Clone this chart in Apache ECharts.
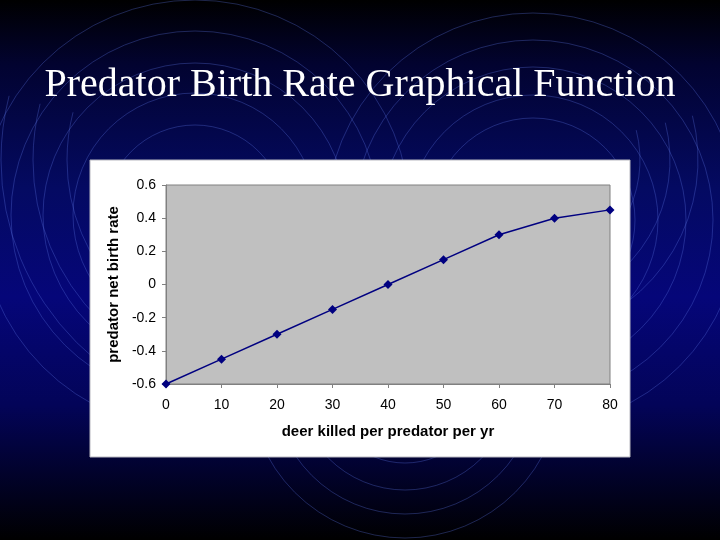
<!DOCTYPE html>
<html><head><meta charset="utf-8">
<script src="https://cdn.jsdelivr.net/npm/echarts@6/dist/echarts.min.js"></script>
<style>html,body{margin:0;padding:0;background:#000;}#c{width:720px;height:540px;}</style>
</head><body><div id="c"></div>
<script>
var titleText = 'Predator Birth Rate Graphical Function';
var xName = 'deer killed per predator per yr';
var yName = 'predator net birth rate';
var deerKilled = [0, 10, 20, 30, 40, 50, 60, 70, 80];
var birthRate = [-0.6, -0.45, -0.3, -0.15, 0, 0.15, 0.3, 0.4, 0.45];

var chart = echarts.init(document.getElementById('c'));
var PI = Math.PI;
var ripples = [
  {c: [195, 215], r: [90, 122, 152, 184, 215], a: [0, 2 * PI]},
  {c: [533, 220], r: [102, 125, 153, 180, 207], a: [0, 2 * PI]},
  {c: [259, 160], r: [192, 226, 258], a: [0.5 * PI, 1.08 * PI]},
  {c: [520, 160], r: [120, 150, 178], a: [-0.08 * PI, 0.5 * PI]},
  {c: [405, 382], r: [81, 108, 132, 156], a: [0, PI]}
];
var elems = [];
ripples.forEach(function (g) {
  g.r.forEach(function (r) {
    elems.push({type: 'arc', z: -20, silent: true,
      shape: {cx: g.c[0], cy: g.c[1], r: r, startAngle: g.a[0], endAngle: g.a[1], clockwise: true},
      style: {fill: 'none', stroke: 'rgba(90,115,225,0.42)', lineWidth: 0.8}});
  });
});
elems.push({type: 'rect', z: -5, silent: true,
  shape: {x: 90, y: 160, width: 540, height: 297},
  style: {fill: '#ffffff', stroke: '#b8b8c0', lineWidth: 1}});

var data = deerKilled.map(function (x, i) { return [x, birthRate[i]]; });

chart.setOption({
  backgroundColor: new echarts.graphic.LinearGradient(0, 0, 0, 1, [
    {offset: 0, color: '#000000'},
    {offset: 0.12, color: '#020330'},
    {offset: 0.35, color: '#040a62'},
    {offset: 0.55, color: '#050679'},
    {offset: 0.75, color: '#030458'},
    {offset: 1, color: '#000000'}
  ]),
  title: {text: titleText, left: 'center', top: 60,
    textStyle: {fontFamily: 'Liberation Serif', fontSize: 40, fontWeight: 'normal', color: '#ffffff'}},
  graphic: elems,
  grid: {left: 166, top: 185, width: 444, height: 199, show: true,
    backgroundColor: '#c0c0c0', borderColor: '#808080', borderWidth: 1},
  xAxis: {type: 'value', min: 0, max: 80, interval: 10,
    name: xName, nameLocation: 'middle', nameGap: 40,
    nameTextStyle: {fontFamily: 'Liberation Sans', fontSize: 15, fontWeight: 'bold', color: '#000'},
    axisLine: {onZero: false, lineStyle: {color: '#808080'}},
    axisTick: {show: true, length: 4, lineStyle: {color: '#808080'}},
    axisLabel: {fontFamily: 'Liberation Sans', fontSize: 14, color: '#000', margin: 14},
    splitLine: {show: false}},
  yAxis: {type: 'value', min: -0.6, max: 0.6, interval: 0.2,
    name: yName, nameLocation: 'middle', nameGap: 41, nameRotate: 90,
    nameTextStyle: {fontFamily: 'Liberation Sans', fontSize: 15, fontWeight: 'bold', color: '#000'},
    axisLine: {show: true, onZero: false, lineStyle: {color: '#808080'}},
    axisTick: {show: true, length: 4, lineStyle: {color: '#808080'}},
    axisLabel: {fontFamily: 'Liberation Sans', fontSize: 14, color: '#000', margin: 10,
      formatter: function (v) { return String(Math.round(v * 10) / 10); }},
    splitLine: {show: false}},
  series: [{type: 'line', data: data, clip: false,
    symbol: 'diamond', symbolSize: 9, showSymbol: true,
    lineStyle: {color: '#000080', width: 1.5},
    itemStyle: {color: '#000080'}, animation: false}]
});
</script></body></html>
